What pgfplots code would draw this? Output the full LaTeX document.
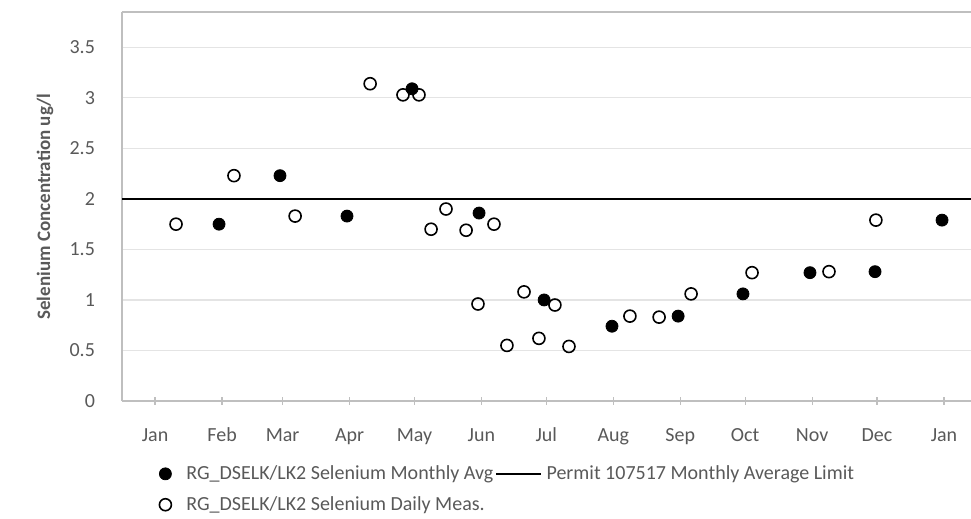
\documentclass[border=0pt]{standalone}
\usepackage{fontspec}
\setmainfont{Carlito}
\usepackage{pgfplots}
\pgfplotsset{compat=1.18}
\definecolor{txt}{HTML}{595959}
\definecolor{gridc}{HTML}{E4E4E4}
\definecolor{axc}{HTML}{BFBFBF}
\pgfplotsset{
  shortline/.style={legend image code/.code={\draw[##1] (0pt,0pt) -- (22.5pt,0pt);}},
  markimg/.style={legend image code/.code={\draw[##1] plot coordinates {(0pt,0pt)}; \path[draw=none,fill=none] (-3pt,0pt) -- (8.5pt,0pt);}},
}
\begin{document}
\begin{tikzpicture}
\begin{axis}[
  name=ax,
  scale only axis,
  width=424.5pt, height=194.5pt,
  xmin=-15.3, xmax=377.5,
  ymin=0, ymax=3.85,
  separate axis lines,
  axis x line*=box, axis y line*=left,
  x axis line style={draw=axc, line width=0.6pt},
  y axis line style={draw=axc, line width=0.6pt},
  xtick={0,31,59,90,120,151,181,212,243,273,304,334,365},
  xticklabels={Jan,Feb,Mar,Apr,May,Jun,Jul,Aug,Sep,Oct,Nov,Dec,Jan},
  ytick={0,0.5,1,1.5,2,2.5,3,3.5},
  xtick pos=left,
  tick align=center,
  major tick length=4pt,
  xtick style={draw=axc, line width=0.6pt},
  ytick style={draw=none},
  ymajorgrids,
  grid style={draw=gridc, line width=0.6pt},
  /pgf/number format/assume math mode=true,
  tick label style={font=\fontsize{10}{12}\selectfont, text=txt},
  yticklabel style={xshift=-8pt},
  xticklabel style={yshift=-7.5pt, text height=7pt, text depth=2pt},
  ylabel={Selenium Concentration ug/l},
  every axis y label/.style={at={([xshift=-38.5pt]axis description cs:0,0.5)}, rotate=90, anchor=center, font=\fontsize{9.5}{11}\selectfont\bfseries, text=txt},
  legend columns=2,
  legend style={at={(axis description cs:0,0)}, anchor=north west, xshift=15.5pt, yshift=-28pt,
    draw=none, fill=none, font=\fontsize{10}{12}\selectfont, text=txt,
    /tikz/every even column/.append style={column sep=-1pt},
    row sep=3pt},
  legend cell align=left,
]
\addplot[only marks, mark=*, mark size=3pt, mark options={draw=black, fill=black}, markimg]
coordinates {
(29.6,1.75) (57.8,2.23) (88.8,1.83) (118.9,3.09) (149.9,1.86) (180.0,1.00)
(211.4,0.74) (242.0,0.84) (272.0,1.06) (303.0,1.27) (333.1,1.28) (364.1,1.79)
};
\addlegendentry{RG\_DSELK/LK2 Selenium Monthly Avg}
\addplot[black, line width=1.1pt, shortline]
coordinates {(-15.3,2) (377.5,2)};
\addlegendentry{Permit 107517 Monthly Average Limit}
\addplot[only marks, mark=o, mark size=3pt, mark options={draw=black, fill=white, line width=0.8pt}, markimg]
coordinates {
(9.7,1.75) (36.5,2.23) (64.8,1.83) (99.5,3.14) (114.7,3.03) (122.1,3.03)
(127.7,1.70) (134.6,1.90) (143.9,1.69) (156.8,1.75) (149.4,0.96) (162.8,0.55)
(170.7,1.08) (177.6,0.62) (185.0,0.95) (191.5,0.54) (219.7,0.84) (233.2,0.83)
(248.0,1.06) (276.2,1.27) (311.8,1.28) (333.5,1.79)
};
\addlegendentry{RG\_DSELK/LK2 Selenium Daily Meas.}
\end{axis}
\pgfresetboundingbox
\path ([xshift=-61pt,yshift=-59pt]ax.south west) rectangle ([yshift=6pt]ax.north east);
\end{tikzpicture}
\end{document}
